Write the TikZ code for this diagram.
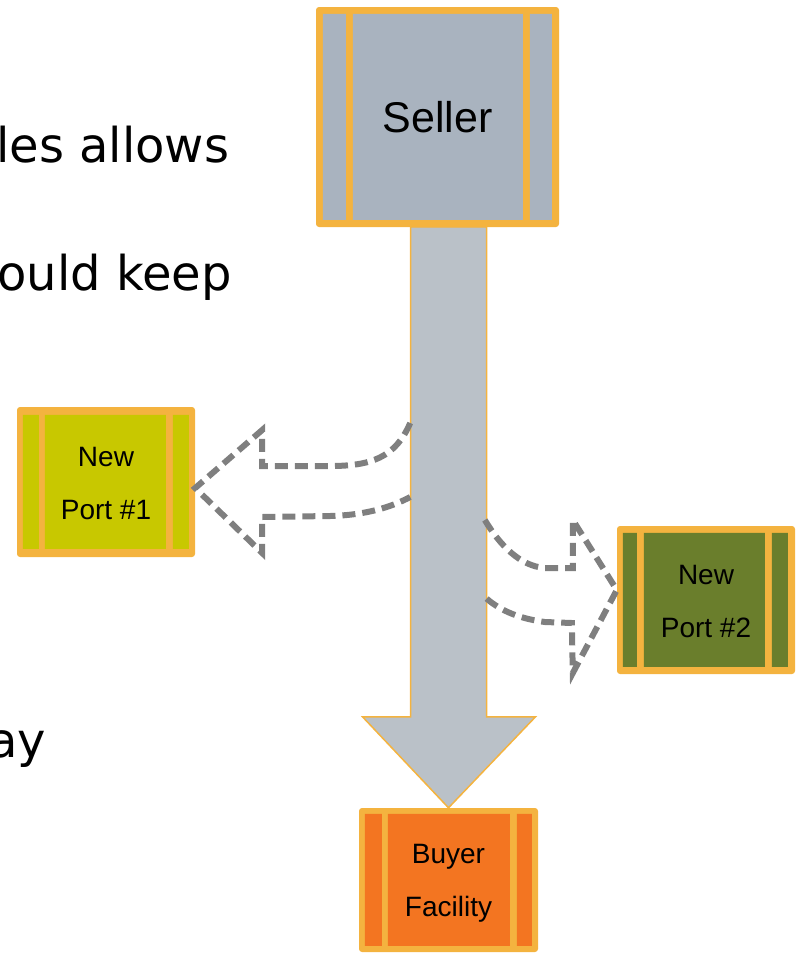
\documentclass[tikz,border=0pt]{standalone}
\usepackage{fontspec}
\setmainfont{DejaVu Sans}
\newfontfamily\arialf{Liberation Sans}
\usetikzlibrary{calc}
\definecolor{bord}{HTML}{F4B33F}
\definecolor{sellergrey}{HTML}{A9B3BF}
\definecolor{shaftgrey}{HTML}{BAC1C8}
\definecolor{portone}{HTML}{C8C800}
\definecolor{porttwo}{HTML}{6A7E2C}
\definecolor{buyerorange}{HTML}{F37521}
\definecolor{dashgrey}{HTML}{7F7F7F}
\begin{document}
\begin{tikzpicture}[x=1pt,y=-1pt,
  boxbase/.style={rectangle, inner sep=0pt, fill=bord, rounded corners=3pt},
  boxlabel/.style={inner sep=0pt, align=center, text=black},
  smalllabel/.style={font=\arialf\fontsize{28}{53}\selectfont},
  bodytext/.style={anchor=base west, inner sep=0pt, font=\fontsize{48}{50}\selectfont, text=black},
  flowdash/.style={draw=dashgrey, line width=6pt, dash pattern=on 13pt off 7pt, line join=miter}]
\useasboundingbox (0,0) rectangle (802,953);
\clip (0,0) rectangle (802,953);

% body text fragments
\node[bodytext] (t1) at (-4,162) {les allows};
\node[bodytext] (t2) at (-3,290) {ould keep};
\node[bodytext] (t3) at (-12,757) {ay};

% buyer box
\node[boxbase, minimum width=179pt, minimum height=144pt] (buyer) at (448.5,880) {};
\begin{scope}[shift={(buyer.north west)}]
  \fill[buyerorange] (6,6) rectangle (23,138) (29,6) rectangle (151,138) (158,6) rectangle (173,138);
\end{scope}
\node[boxlabel, smalllabel] (buyerlabel) at ([yshift=-3pt]buyer.center) {Buyer\\Facility};

% main shaft arrow
\fill[shaftgrey, draw=bord, line width=1.5pt]
  ($(buyer.north)+(-38,-581)$) -- ($(buyer.north)+(38,-581)$) -- ($(buyer.north)+(38,-91)$)
  -- ($(buyer.north)+(87,-91)$) -- (buyer.north) -- ($(buyer.north)+(-86,-91)$)
  -- ($(buyer.north)+(-38,-91)$) -- cycle;

% seller box
\node[boxbase, minimum width=243pt, minimum height=220pt] (seller) at (437.5,117) {};
\begin{scope}[shift={(seller.north west)}]
  \fill[sellergrey] (7,7) rectangle (30,213) (37,7) rectangle (207,213) (214,7) rectangle (236,213);
\end{scope}
\node[boxlabel, font=\arialf\fontsize{43}{50}\selectfont] (sellerlabel) at (seller.center) {Seller};

% port 1
\node[boxbase, minimum width=178pt, minimum height=150pt] (port1) at (106,482) {};
\begin{scope}[shift={(port1.north west)}]
  \fill[portone] (6,8) rectangle (22,142) (28,8) rectangle (149,142) (156,8) rectangle (172,142);
\end{scope}
\node[boxlabel, smalllabel] (port1label) at ([yshift=-1pt]port1.center) {New\\Port \#1};

% port 2
\node[boxbase, minimum width=178pt, minimum height=148pt] (port2) at (706,600) {};
\begin{scope}[shift={(port2.north west)}]
  \fill[porttwo] (6,7) rectangle (20,141) (27,7) rectangle (148,141) (155,7) rectangle (171,141);
\end{scope}
\node[boxlabel, smalllabel] (port2label) at ([yshift=-1pt]port2.center) {New\\Port \#2};

% dashed arrow to port 1
\begin{scope}[shift={(port1.east)}]
\draw[flowdash] (215,-59) .. controls (200,-24) and (175,-16) .. (135,-16) -- (67,-16) -- (67,-52)
  -- (0,6) -- (67,71) -- (67,35) -- (135,34) .. controls (175,33) and (200,23) .. (215,15);
\end{scope}

% dashed arrow to port 2
\begin{scope}[shift={(port2.west)}]
\draw[flowdash] (-132,-80) .. controls (-117,-55) and (-97,-34) .. (-72,-32) -- (-44,-32) -- (-44,-80)
  -- (0,-10) -- (-44,73) -- (-45,23) -- (-72,22) .. controls (-102,18) and (-120,8) .. (-132,-3);
\end{scope}
\end{tikzpicture}
\end{document}
